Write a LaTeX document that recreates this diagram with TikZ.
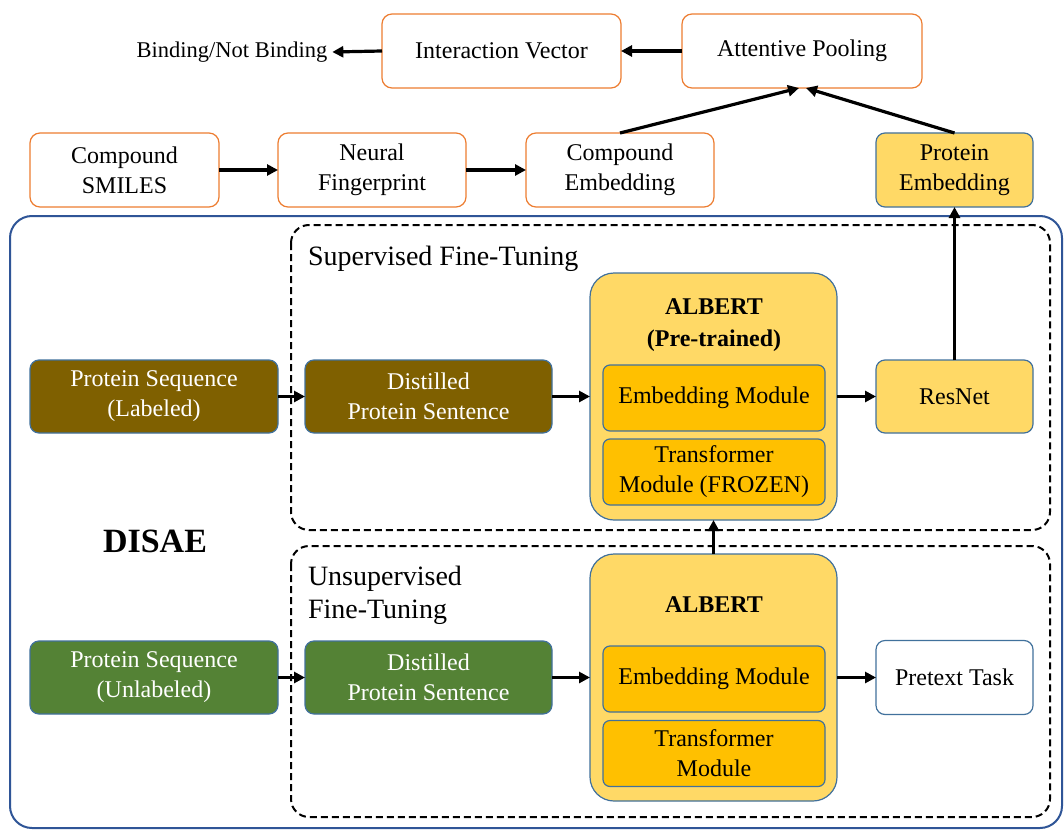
\documentclass[tikz,border=0pt]{standalone}
\usepackage{fontspec}
\setmainfont{Liberation Serif}
\usetikzlibrary{arrows.meta}
\definecolor{orng}{HTML}{ED7D31}
\definecolor{bl}{HTML}{41719C}
\definecolor{dblue}{HTML}{2F5597}
\definecolor{gold}{HTML}{7F6000}
\definecolor{grn}{HTML}{548235}
\definecolor{lyel}{HTML}{FFD966}
\definecolor{yel}{HTML}{FFC000}
\begin{document}
\begin{tikzpicture}[x=1pt,y=-1pt,
  every node/.style={font=\fontsize{24}{30}\selectfont, inner sep=0pt, outer sep=0pt, align=center},
  obox/.style={draw=orng, line width=1.2pt, rounded corners=10pt, fill=white},
  bbox/.style={draw=bl, line width=1.2pt, rounded corners=9pt},
  modbox/.style={bbox, fill=yel, rounded corners=7pt, minimum width=222pt},
  albbox/.style={bbox, fill=lyel, rounded corners=24pt, minimum width=247pt},
  arr/.style={line width=3.2pt, -{Triangle[length=11pt,width=11pt]}},
  dbox/.style={draw=black, line width=2pt, dash pattern=on 7pt off 4pt, rounded corners=18pt}]
\useasboundingbox (0,0) rectangle (1064,829);
\fill[white] (0,0) rectangle (1064,829);

% outer DISAE frame
\draw[dblue, line width=2pt, rounded corners=22pt] (10,216) rectangle (1062,828);
\node[font=\fontsize{34}{40}\selectfont\bfseries] (disae) at (155,541) {DISAE};

% dashed groups
\draw[dbox] (291,225) rectangle (1050,530);
\draw[dbox] (291,546) rectangle (1050,817);
\node[anchor=west, font=\fontsize{28}{33}\selectfont] (suplab) at (308,259) {Supervised Fine-Tuning};
\node[anchor=west, align=left, font=\fontsize{28}{33}\selectfont] (unsuplab) at (308,595) {Unsupervised\\Fine-Tuning};

% top rows
\node[inner xsep=5pt, font=\fontsize{22.5}{28}\selectfont] (binding) at (232,52) {Binding/Not Binding};
\node[obox, minimum width=239pt, minimum height=74pt] (inter) at (501.5,51) {Interaction Vector};
\node[obox, minimum width=240pt, minimum height=74pt] (attn) at (802,51) {Attentive Pooling};
\node[obox, minimum width=189pt, minimum height=74pt] (smiles) at (124.5,170) {Compound\\SMILES};
\node[obox, minimum width=188pt, minimum height=74pt] (nfp) at (372,170) {Neural\\Fingerprint};
\node[obox, minimum width=188pt, minimum height=74pt] (cemb) at (620,170) {Compound\\Embedding};
\node[bbox, fill=lyel, minimum width=157pt, minimum height=74pt] (pemb) at (954.5,170) {Protein\\Embedding};

% supervised row
\node[bbox, fill=gold, text=white, minimum width=248pt, minimum height=73pt] (psl) at (154,396.5) {Protein Sequence\\(Labeled)};
\node[bbox, fill=gold, text=white, minimum width=247pt, minimum height=73pt] (dpsl) at (428.5,396.5) {Distilled\\Protein Sentence};
\node[albbox, minimum height=247pt] (albs) at (713.5,396.5) {};
\node[font=\fontsize{24}{32}\selectfont\bfseries] (albstitle) at (714,325) {ALBERT\\(Pre-trained)};
\node[modbox, minimum height=66pt] (embs) at (714,398) {Embedding Module};
\node[modbox, minimum height=66pt] (trs) at (714,472) {Transformer\\Module (FROZEN)};
\node[bbox, fill=lyel, minimum width=157pt, minimum height=73pt] (resnet) at (954.5,396.5) {ResNet};

% unsupervised row
\node[bbox, fill=grn, text=white, minimum width=248pt, minimum height=73pt] (psu) at (154,677.5) {Protein Sequence\\(Unlabeled)};
\node[bbox, fill=grn, text=white, minimum width=247pt, minimum height=73pt] (dpsu) at (428.5,677.5) {Distilled\\Protein Sentence};
\node[albbox, minimum height=247pt] (albu) at (713.5,677.5) {};
\node[font=\fontsize{24}{30}\selectfont\bfseries] (albutitle) at (714,605) {ALBERT};
\node[modbox, minimum height=66pt] (embu) at (714,679) {Embedding Module};
\node[modbox, minimum height=66pt] (tru) at (714,753.5) {Transformer\\Module};
\node[bbox, fill=white, minimum width=157pt, minimum height=74pt] (pretext) at (954.5,677.5) {Pretext Task};

% connectors
\draw[arr] (inter.west) -- (binding.east);
\draw[arr] (attn.west) -- (inter.east);
\draw[arr] (smiles.east) -- (nfp.west);
\draw[arr] (nfp.east) -- (cemb.west);
\draw[arr] (cemb.north) -- ([xshift=-3pt]attn.south);
\draw[arr] (pemb.north) -- ([xshift=4pt]attn.south);
\draw[arr] (psl.east) -- (dpsl.west);
\draw[arr] (dpsl.east) -- (dpsl.east -| albs.west);
\draw[arr] (albs.east |- resnet.west) -- (resnet.west);
\draw[arr] (resnet.north) -- (pemb.south);
\draw[arr] (psu.east) -- (dpsu.west);
\draw[arr] (dpsu.east) -- (dpsu.east -| albu.west);
\draw[arr] (albu.east |- pretext.west) -- (pretext.west);
\draw[arr] (albu.north) -- (albs.south);
\end{tikzpicture}
\end{document}
